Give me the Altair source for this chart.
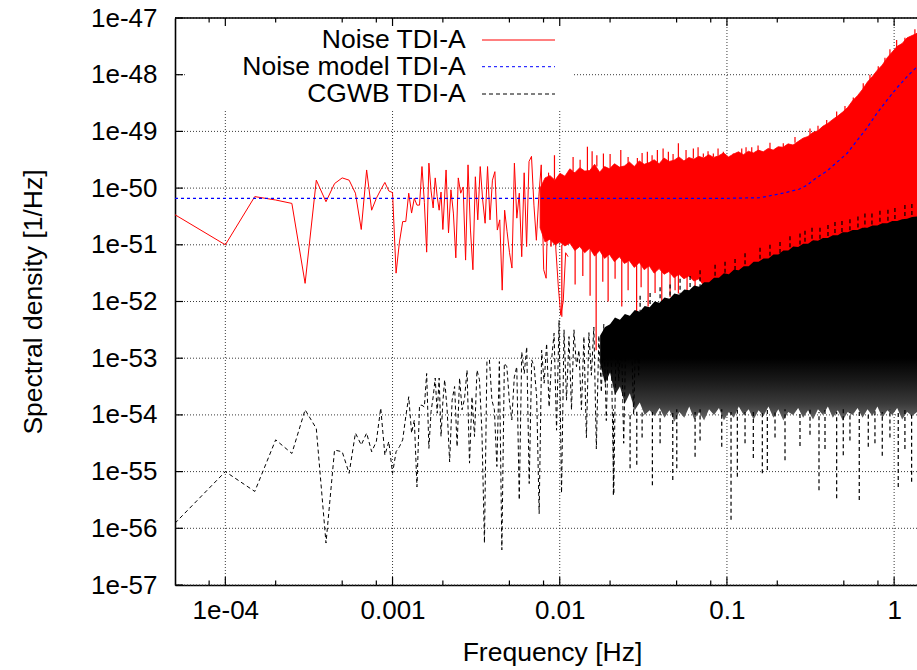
import numpy as np
import pandas as pd
import altair as alt

FONT = "Liberation Sans"
FS_TICK = 26
FS_TEXT = 26.5

# ---------------- axes ----------------
X_DOMAIN = [5e-5, 1.37]
Y_DOMAIN = [1e-57, 1e-47]
x_tick_values = [1e-4, 1e-3, 1e-2, 1e-1, 1.0]
x_tick_labels = ["1e-04", "0.001", "0.01", "0.1", "1"]
x_minor_ticks = [8e-5, 2e-4, 5e-4, 8e-4, 2e-3, 5e-3, 8e-3, 2e-2, 5e-2, 8e-2, 0.2, 0.5, 0.8]
y_tick_exponents = list(range(-57, -46))

# ---------------- data (log10 of spectral density) ----------------
BIN_WIDTH = 5e-5  # Hz, frequency resolution of the spectra

# Noise TDI-A, individual low-frequency bins k*BIN_WIDTH, k = 1..40
noise_sparse_log = [-50.47, -51.00, -50.15, -50.21, -50.27, -51.68, -49.86, -50.24, -49.92, -49.82,
                    -49.86, -50.09, -50.73, -49.68, -50.39, -50.18, -50.03, -49.90, -50.05, -50.08,
                    -51.50, -50.95, -50.59, -50.59, -50.09, -50.44, -50.18, -50.30, -50.30, -49.62,
                    -50.25, -51.13, -49.56, -50.05, -50.35, -49.82, -50.15, -50.39, -50.07, -50.73]
# Noise TDI-A, readings between 0.0021 and 0.0112 Hz
NOISE_SEMI_F = (0.00209, 0.01122)
noise_semi_log = [-49.68, -50.79, -50.03, -50.44, -51.23, -49.82, -50.09, -49.98, -51.27, -49.59,
                  -50.74, -51.44, -49.80, -50.56, -49.62, -50.21, -50.62, -49.62, -50.56, -49.86,
                  -49.71, -50.74, -50.56, -51.80, -50.39, -50.77, -51.14, -51.41, -49.56, -50.53,
                  -50.09, -51.21, -49.73, -51.03, -49.53, -49.44, -50.30, -50.92, -50.15, -49.59,
                  -51.44, -51.59, -49.73, -51.03, -49.92, -51.09, -51.74, -52.24, -52.00, -51.14,
                  -51.21]
# Noise TDI-A, dense part: upper / lower edge of the filled band (0.0076 .. 1.37 Hz)
NOISE_BAND_F = (0.00763, 1.37)
noise_band_top_log = [-50.00, -49.82, -49.78, -49.86, -49.74,
                      -49.79, -49.66, -49.73, -49.64, -49.70, -49.69, -49.58, -49.72, -49.62, -49.66,
                      -49.57, -49.63, -49.61, -49.54, -49.62, -49.52, -49.58, -49.55, -49.50, -49.57,
                      -49.47, -49.53, -49.51, -49.45, -49.52, -49.46, -49.49, -49.44,
                      -49.47, -49.41, -49.46, -49.43, -49.38, -49.45, -49.40, -49.36, -49.41, -49.35,
                      -49.38, -49.33, -49.36, -49.30, -49.33, -49.27, -49.28, -49.22, -49.24, -49.18,
                      -49.12, -49.09, -49.02, -48.99, -48.91, -48.86, -48.79, -48.73, -48.66, -48.58,
                      -48.46, -48.37, -48.26, -48.13, -48.03, -47.92, -47.83, -47.70, -47.60, -47.50,
                      -47.45, -47.35, -47.31, -47.27]
noise_band_bottom_log = [-50.70, -50.95, -50.90, -51.00, -50.95,
                         -51.02, -50.97, -51.10, -51.03, -51.14, -51.06, -51.20, -51.10, -51.24, -51.17,
                         -51.30, -51.21, -51.33, -51.28, -51.40, -51.31, -51.44, -51.37, -51.50, -51.42,
                         -51.52, -51.47, -51.58, -51.52, -51.60, -51.55, -51.64, -51.60,
                         -51.72, -51.70, -51.65, -51.64, -51.58, -51.58, -51.52, -51.52, -51.46, -51.45,
                         -51.38, -51.38, -51.32, -51.31, -51.25, -51.24, -51.18, -51.17, -51.11, -51.11,
                         -51.06, -51.05, -51.00, -51.00, -50.96, -50.95, -50.91, -50.90, -50.86, -50.85,
                         -50.82, -50.81, -50.78, -50.77, -50.74, -50.73, -50.70, -50.69, -50.66, -50.65,
                         -50.63, -50.61, -50.59, -50.58]
# Noise TDI-A, isolated spikes: frequency, tip, foot
noise_spike_f = [0.00930, 0.01464, 0.01667, 0.01825, 0.02318, 0.02913, 0.03343, 0.03837, 0.04464, 0.05123,
                 0.06297, 0.07226, 0.08294, 0.09517, 0.1092, 0.1226, 0.1407, 0.2173, 0.3139, 0.3950,
                 0.4531, 0.5697, 0.6535, 0.8035, 0.9438, 1.035, 1.331,
                 0.01202, 0.01324, 0.01562, 0.02001, 0.02564, 0.03109, 0.03567, 0.04151, 0.04763, 0.05694,
                 0.06720, 0.07709, 0.08847, 0.1301, 0.1535, 0.1809, 0.2553, 0.3504, 0.5081, 0.7169,
                 0.8810, 1.160,
                 0.01029, 0.01374, 0.01651, 0.01809, 0.02350, 0.02883, 0.03377, 0.04077, 0.04570, 0.05123,
                 0.05774, 0.01236, 0.01519, 0.01947, 0.02143, 0.02564, 0.03067, 0.03717, 0.04896, 0.06449]
noise_spike_tip_log = [-49.42, -49.27, -49.42, -49.39, -49.33, -49.47, -49.36, -49.33, -49.36, -49.21,
                       -49.30, -49.39, -49.39, -49.36, -49.39, -49.30, -49.28, -49.21, -48.95, -48.80,
                       -48.65, -48.40, -48.15, -47.85, -47.55, -47.39, -47.20,
                       -49.45, -49.50, -49.35, -49.40, -49.45, -49.38, -49.42, -49.30, -49.40, -49.33,
                       -49.28, -49.35, -49.30, -49.28, -49.25, -49.20, -49.10, -48.90, -48.55, -48.00,
                       -47.70, -47.35,
                       -52.27, -51.55, -52.86, -51.65, -52.09, -52.21, -52.09, -52.15, -51.92, -51.86,
                       -51.90, -51.70, -51.90, -52.00, -51.60, -51.80, -51.75, -51.85, -51.80, -51.85]
noise_spike_foot_log = [-49.85, -49.70, -49.62, -49.65, -49.65, -49.60, -49.58, -49.55, -49.54, -49.52,
                        -49.48, -49.46, -49.45, -49.44, -49.42, -49.42, -49.40, -49.30, -49.08, -48.90,
                        -48.76, -48.50, -48.28, -47.95, -47.70, -47.55, -47.30,
                        -49.70, -49.65, -49.66, -49.66, -49.62, -49.58, -49.55, -49.52, -49.52, -49.50,
                        -49.46, -49.45, -49.43, -49.38, -49.36, -49.33, -49.20, -49.00, -48.66, -48.14,
                        -47.83, -47.45,
                        -51.00, -51.05, -51.10, -51.15, -51.20, -51.30, -51.35, -51.40, -51.45, -51.50,
                        -51.50, -51.00, -51.05, -51.20, -51.25, -51.30, -51.35, -51.45, -51.55, -51.60]

# Noise model TDI-A
model_f = [5e-5, 0.1, 0.158, 0.216, 0.270, 0.301, 0.342, 0.396, 0.522, 0.687, 0.78, 0.906, 1.04, 1.19, 1.37]
model_log = [-50.18, -50.18, -50.17, -50.09, -50.02, -49.95, -49.82, -49.70, -49.39, -48.94, -48.70,
             -48.45, -48.23, -48.04, -47.86]

# CGWB TDI-A, individual low-frequency bins k*BIN_WIDTH, k = 1..40
cgwb_sparse_log = [-55.91, -55.00, -55.35, -54.44, -54.68, -53.91, -54.24, -56.26, -54.62, -54.65,
                   -55.03, -54.32, -54.53, -54.32, -54.65, -54.47, -53.88, -54.71, -54.47, -55.03,
                   -54.65, -54.56, -54.44, -54.03, -53.68, -54.32, -54.09, -55.27, -53.83, -53.83,
                   -53.86, -53.27, -54.59, -53.94, -53.68, -53.35, -53.97, -53.35, -54.38, -53.77]
CGWB_SEMI_F = (0.00205, 0.03067)
cgwb_semi_log = [-53.38, -53.91, -54.83, -53.74, -53.50, -54.56, -53.35, -53.91, -53.71, -53.21,
                 -54.85, -53.68, -54.38, -53.21, -53.38, -54.32, -56.26, -53.06, -53.03, -53.74,
                 -53.91, -54.91, -53.06, -56.38, -53.09, -53.15, -53.74, -54.09, -53.33, -53.15,
                 -55.50, -52.89, -53.27, -52.80, -55.21, -53.03, -53.15, -53.68, -55.74, -52.86,
                 -53.44, -52.74, -53.86, -53.03, -52.56, -54.27, -52.33, -55.38, -52.50, -53.74,
                 -52.62, -53.91, -52.50, -53.15, -52.86, -53.91, -52.62, -54.40, -52.55, -53.30,
                 -52.45, -54.60, -52.60, -53.60, -52.40, -54.10, -52.50, -52.90, -55.40, -52.35,
                 -53.40, -52.45, -54.50, -52.30, -53.00, -52.40, -54.00, -52.25, -53.30, -52.30]
# CGWB TDI-A dense part: top of the black band and bottom of the dashed (grey) zone
CGWB_BAND_F = (0.01744, 1.37)
cgwb_band_top_log = [-52.60, -52.45, -52.40, -52.28, -52.32, -52.22, -52.25, -52.15, -52.18, -52.08,
                     -52.10, -52.00, -52.02, -51.93, -51.95, -51.86, -51.88, -51.79, -51.80, -51.72,
                     -51.74, -51.66, -51.66, -51.58, -51.58, -51.50, -51.52, -51.44, -51.45, -51.38,
                     -51.38, -51.30, -51.30, -51.24, -51.24, -51.17, -51.17, -51.10, -51.10, -51.03,
                     -51.04, -50.98, -50.98, -50.92, -50.93, -50.88, -50.88, -50.83, -50.83, -50.78,
                     -50.78, -50.74, -50.74, -50.70, -50.70, -50.66, -50.66, -50.62, -50.62, -50.58,
                     -50.58, -50.55, -50.54, -50.51, -50.50]
cgwb_band_bottom_log = [-53.10, -53.45, -53.25, -53.65, -53.50, -53.80, -53.62, -53.92, -53.78, -54.00,
                        -53.92, -54.02, -53.88, -54.05, -53.92, -54.12, -53.95, -54.05, -53.85, -54.08,
                        -53.95, -54.10, -53.90, -54.00, -53.88, -54.10, -53.95, -54.05, -53.85, -54.00,
                        -53.90, -54.08, -53.92, -54.02, -53.85, -54.05, -53.90, -54.10, -53.95, -54.00,
                        -53.88, -54.05, -53.92, -54.08, -53.90, -54.00, -53.85, -54.05, -53.92, -54.10,
                        -53.95, -54.00, -53.88, -54.05, -53.90, -54.02, -53.85, -54.05, -53.92, -54.00,
                        -53.88, -54.08, -53.95, -54.02, -53.95]
SOLID_LIMIT_LOG = -53.0   # lowest level where the CGWB band is still solid black
# CGWB TDI-A spikes
cgwb_spike_f = [0.03025, 0.03983, 0.05244, 0.06906, 0.08491, 0.1283, 0.1577, 0.2077, 0.2383, 0.2930,
                0.3602, 0.4428, 0.5442, 0.6689, 0.8225, 1.011, 1.160,
                0.03470, 0.04570, 0.06020, 0.09741, 0.1118, 0.1809, 0.2735, 0.3227, 0.4021, 0.4876,
                0.6076, 0.7368, 0.9183, 1.277,
                0.02094, 0.02635, 0.02889, 0.03109, 0.03582, 0.03983, 0.04742, 0.05012, 0.06449, 0.06906,
                0.09309, 0.1058, 0.1154, 0.1283, 0.1438, 0.1628, 0.1744, 0.1939, 0.2225, 0.2735,
                0.3139, 0.3553, 0.3859, 0.4531, 0.4963, 0.5442, 0.6186, 0.7003, 0.7678, 0.8491,
                0.9438, 1.058, 1.160, 1.272]
cgwb_spike_tip_log = [-51.90, -51.75, -51.60, -51.45, -51.35, -51.15, -51.05, -50.95, -50.85, -50.75,
                      -50.70, -50.60, -50.55, -50.45, -50.40, -50.35, -50.30,
                      -51.85, -51.70, -51.55, -51.30, -51.25, -51.00, -50.80, -50.70, -50.65, -50.58,
                      -50.50, -50.45, -50.38, -50.28,
                      -55.41, -54.94, -54.88, -54.40, -55.24, -54.50, -55.15, -54.94, -54.74, -54.45,
                      -54.56, -55.85, -55.09, -54.50, -54.76, -55.03, -54.97, -54.40, -54.80, -54.55,
                      -54.35, -55.33, -54.60, -55.47, -54.71, -54.45, -55.50, -54.56, -54.50, -54.72,
                      -54.40, -55.27, -54.60, -55.18]
cgwb_spike_foot_log = [-52.20, -52.00, -51.88, -51.74, -51.58, -51.38, -51.30, -51.17, -51.10, -50.98,
                       -50.92, -50.83, -50.78, -50.70, -50.66, -50.58, -50.55,
                       -52.10, -51.95, -51.80, -51.50, -51.45, -51.24, -51.04, -50.95, -50.86, -50.80,
                       -50.74, -50.70, -50.62, -50.52,
                       -53.90, -53.95, -53.90, -53.90, -53.95, -53.90, -53.95, -53.90, -53.95, -53.90,
                       -53.90, -53.95, -53.90, -53.95, -53.90, -53.95, -53.90, -53.95, -53.90, -53.95,
                       -53.90, -53.95, -53.90, -53.95, -53.90, -53.95, -53.90, -53.95, -53.90, -53.95,
                       -53.90, -53.95, -53.90, -53.95]

legend_labels = ["Noise TDI-A", "Noise model TDI-A", "CGWB TDI-A"]

# ---------------- tables ----------------
def pw(a):
    return np.power(10.0, np.asarray(a, dtype=float))

bins = BIN_WIDTH * np.arange(1, len(noise_sparse_log) + 1)
noise_line = pd.DataFrame({
    "f": np.concatenate([bins, np.geomspace(*NOISE_SEMI_F, len(noise_semi_log))]),
    "v": pw(noise_sparse_log + noise_semi_log)})
noise_band = pd.DataFrame({"f": np.geomspace(*NOISE_BAND_F, len(noise_band_top_log)),
                           "v": pw(noise_band_top_log), "bot": pw(noise_band_bottom_log)})
noise_spikes = pd.DataFrame({"f": noise_spike_f, "v": pw(noise_spike_tip_log),
                             "foot": pw(noise_spike_foot_log)})
model_line = pd.DataFrame({"f": model_f, "v": pw(model_log)})
bins_c = BIN_WIDTH * np.arange(1, len(cgwb_sparse_log) + 1)
cgwb_line = pd.DataFrame({
    "f": np.concatenate([bins_c, np.geomspace(*CGWB_SEMI_F, len(cgwb_semi_log))]),
    "v": pw(cgwb_sparse_log + cgwb_semi_log)})
cgwb_band = pd.DataFrame({"f": np.geomspace(*CGWB_BAND_F, len(cgwb_band_top_log)),
                          "v": pw(cgwb_band_top_log), "bot": pw(cgwb_band_bottom_log)})
cgwb_spikes = pd.DataFrame({"f": cgwb_spike_f, "v": pw(cgwb_spike_tip_log),
                            "foot": pw(cgwb_spike_foot_log)})

# ---------------- layout ----------------
W, H = 742, 567
one = pd.DataFrame({"a": [0]})

label_expr = "'" + x_tick_labels[-1] + "'"
for val, lab in reversed(list(zip(x_tick_values[:-1], x_tick_labels[:-1]))):
    label_expr = f"datum.value < {val * 1.5} ? '{lab}' : (" + label_expr + ")"

xscale = alt.Scale(type="log", domain=X_DOMAIN, nice=False)
yscale = alt.Scale(type="log", domain=Y_DOMAIN, nice=False)

x_axis = alt.Axis(values=x_tick_values, labelExpr=label_expr, ticks=False, tickSize=0,
                  labelFont=FONT, labelFontSize=FS_TICK, labelColor="black", labelPadding=12,
                  labelFlush=False, labelOverlap=False, grid=False,
                  domain=True, domainColor="black", domainWidth=1.6,
                  title="Frequency [Hz]", titleFont=FONT, titleFontSize=FS_TEXT, titleFontWeight="normal",
                  titleColor="black", titleX=377, titleY=67, titleAlign="center", titleBaseline="middle")
y_axis = alt.Axis(values=[10.0 ** e for e in y_tick_exponents],
                  labelExpr="'1e' + round(log(datum.value) / LN10)", ticks=False, tickSize=0,
                  labelFont=FONT, labelFontSize=FS_TICK, labelColor="black", labelPadding=18,
                  labelFlush=False, labelOverlap=False, grid=False,
                  domain=True, domainColor="black", domainWidth=1.6,
                  title="Spectral density [1/Hz]", titleFont=FONT, titleFontSize=FS_TEXT,
                  titleFontWeight="normal", titleColor="black", titleAngle=270,
                  titleX=-142, titleY=283.5, titleAlign="center", titleBaseline="middle")

def X():
    return alt.X("f:Q", scale=xscale, axis=x_axis)

def Y():
    return alt.Y("v:Q", scale=yscale, axis=y_axis)

# dotted grid (drawn first, under everything)
xt_major = pd.DataFrame({"f": x_tick_values})
xt_minor = pd.DataFrame({"f": x_minor_ticks})
yt_major = pd.DataFrame({"v": [10.0 ** e for e in y_tick_exponents]})
grid_x = alt.Chart(xt_major).mark_rule(color="#3a3a3a", strokeWidth=1, strokeDash=[1, 2]).encode(
    x=X(), y=alt.value(0), y2=alt.value(H))
grid_y = alt.Chart(yt_major).mark_rule(color="#3a3a3a", strokeWidth=1, strokeDash=[1, 2]).encode(
    y=Y(), x=alt.value(0), x2=alt.value(W))

# legend mask (hides the grid behind the key, as in the original)
mask = alt.Chart(one).mark_rect(color="white").encode(
    x=alt.value(10), x2=alt.value(397), y=alt.value(1), y2=alt.value(92))

red = "#ff0000"
noise_band_l = alt.Chart(noise_band).mark_area(color=red, clip=True, stroke=red, strokeWidth=0.8).encode(
    x=X(), y=Y(), y2="bot:Q")
noise_line_l = alt.Chart(noise_line).mark_line(color=red, strokeWidth=1, clip=True).encode(
    x=X(), y=Y())
noise_spikes_l = alt.Chart(noise_spikes).mark_rule(color=red, strokeWidth=1.2, clip=True).encode(
    x=X(), y=Y(), y2="foot:Q")

top_l = max(cgwb_band_top_log)
bot_l = min(cgwb_band_bottom_log)
span = top_l - bot_l
def off(level):
    return float(min(max((top_l - level) / span, 0.0), 1.0))
grad = alt.Gradient(
    gradient="linear", x1=0, x2=0, y1=0, y2=1,
    stops=[alt.GradientStop(offset=0.0, color="#000000"),
           alt.GradientStop(offset=off(SOLID_LIMIT_LOG), color="#000000"),
           alt.GradientStop(offset=off(SOLID_LIMIT_LOG - 0.4), color="#1a1a1a"),
           alt.GradientStop(offset=off(SOLID_LIMIT_LOG - 0.8), color="#3a3a3a"),
           alt.GradientStop(offset=1.0, color="#6a6a6a")])
cgwb_band_l = alt.Chart(cgwb_band).mark_area(color=grad, clip=True).encode(
    x=X(), y=Y(), y2="bot:Q")
cgwb_line_l = alt.Chart(cgwb_line).mark_line(color="black", strokeWidth=1, strokeDash=[4, 3],
                                              clip=True).encode(x=X(), y=Y())
cgwb_spikes_l = alt.Chart(cgwb_spikes).mark_rule(color="black", strokeWidth=1.2, strokeDash=[4, 3],
                                                 clip=True).encode(x=X(), y=Y(), y2="foot:Q")
model_l = alt.Chart(model_line).mark_line(color="#0000ff", strokeWidth=1.2, strokeDash=[3, 3],
                                          clip=True).encode(x=X(), y=Y())

# inward tick marks and top border
tick_layers = []
for dfr, ln in ((xt_major, 8), (xt_minor, 4.5)):
    tick_layers.append(alt.Chart(dfr).mark_rule(color="black", strokeWidth=1.2).encode(
        x=X(), y=alt.value(H), y2=alt.value(H - ln)))
    tick_layers.append(alt.Chart(dfr).mark_rule(color="black", strokeWidth=1.2).encode(
        x=X(), y=alt.value(0), y2=alt.value(ln)))
tick_layers.append(alt.Chart(yt_major).mark_rule(color="black", strokeWidth=1.2).encode(
    y=Y(), x=alt.value(0), x2=alt.value(8)))
top_border = alt.Chart(one).mark_rule(color="black", strokeWidth=1.6).encode(
    x=alt.value(0), x2=alt.value(W), y=alt.value(0))

# key
key_colors = [red, "#0000ff", "black"]
key_dash = [[1, 0], [3, 3], [4, 3]]
key_rows = [22, 48.7, 76]
key_layers = []
for lab, col, dash, yy in zip(legend_labels, key_colors, key_dash, key_rows):
    key_layers.append(alt.Chart(one).mark_text(font=FONT, fontSize=FS_TEXT, align="right",
                                               baseline="middle", color="black").encode(
        x=alt.value(290.7), y=alt.value(yy), text=alt.value(lab)))
    key_layers.append(alt.Chart(one).mark_rule(color=col, strokeWidth=1, strokeDash=dash).encode(
        x=alt.value(307), x2=alt.value(380), y=alt.value(yy)))

chart = alt.layer(
    grid_x, grid_y, mask,
    noise_band_l, noise_line_l, noise_spikes_l,
    cgwb_band_l, cgwb_line_l, cgwb_spikes_l,
    model_l,
    *tick_layers, top_border, *key_layers,
).properties(
    width=W, height=H,
    padding={"left": 175, "top": 18, "right": 0, "bottom": 85},
    autosize=alt.AutoSizeParams(type="none"),
    background="white",
).configure_view(stroke=None)

chart.save("out.html", embed_options={"renderer": "svg", "actions": False})
